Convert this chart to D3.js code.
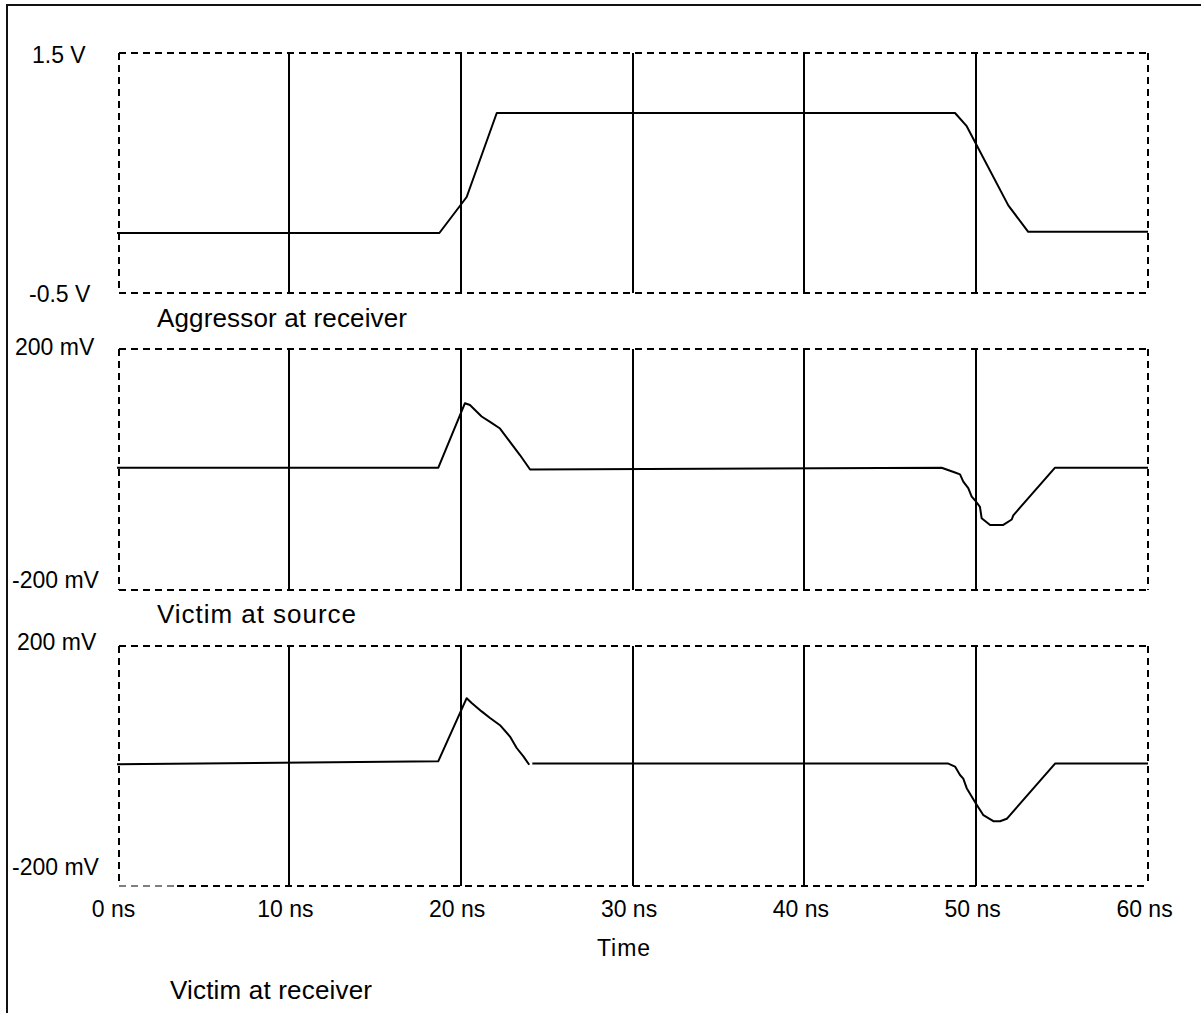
<!DOCTYPE html>
<html><head><meta charset="utf-8">
<script src="https://cdn.jsdelivr.net/npm/d3@7/dist/d3.min.js"></script>
<style>
html,body{margin:0;padding:0;background:#fff;}
text{font-family:"Liberation Sans",Arial,sans-serif;fill:#000;}
</style></head>
<body>
<svg id="chart" width="1201" height="1013"></svg>
<script>
// ---- data ----
const timeTicks = [0, 10, 20, 30, 40, 50, 60];
const gridTimes = [10, 20, 30, 40, 50];

const aggressorT = [0, 18.76, 20.35, 22.10, 48.77, 49.45, 51.87, 53.03, 60];
const aggressorV = [0, 0, 0.30, 1.0, 1.0, 0.89, 0.23, 0.01, 0.01];

const victimSourceT  = [0, 18.70, 20.25, 20.54, 21.22, 21.71, 22.29, 22.87, 23.45, 24.04, 47.99, 48.77, 49.06, 49.25, 49.54, 49.74, 49.93, 50.22, 50.32, 50.81, 51.58, 52.07, 52.16, 54.59, 60];
const victimSourceMV = [3, 3, 110, 107, 88, 79, 68, 46, 24, 0, 3, -5, -8, -20, -31, -45, -51, -62, -81, -92, -92, -83, -76, 3, 3];

const victimRecvT  = [0, 18.70, 20.35, 20.64, 21.22, 21.71, 22.29, 22.87, 23.26, 23.65, 23.99, null, 24.17, 48.38, 48.77, 49.06, 49.25, 49.45, 49.93, 50.42, 51.00, 51.39, 51.78, 54.59, 60];
const victimRecvMV = [3, 8, 113, 105, 91, 80, 68, 49, 30, 16, 2, null, 4, 4, -1, -15, -21, -37, -60, -82, -92, -92, -88, 4, 4];

const panelTitles = ["Aggressor at receiver", "Victim at source", "Victim at receiver"];
const yTickLabels = [["1.5 V", "-0.5 V"], ["200 mV", "-200 mV"], ["200 mV", "-200 mV"]];
const yDomains = [[-0.5, 1.5], [-200, 200], [-200, 200]];
const xTitle = "Time";

// ---- layout ----
const svg = d3.select("#chart");
const x = d3.scaleLinear().domain([0, 60]).range([117, 1148]);
const boxLeft = 119, boxRight = 1148;

const panels = [
  {top: 53, bottom: 293, t: aggressorT, v: aggressorV,
   ylab: [{x: 32, y: 63}, {x: 29, y: 302}], title: {x: 157, y: 327, len: 250}},
  {top: 349, bottom: 590, t: victimSourceT, v: victimSourceMV,
   ylab: [{x: 15, y: 355}, {x: 12, y: 588}], title: {x: 157, y: 623, len: 199}},
  {top: 646, bottom: 886, t: victimRecvT, v: victimRecvMV,
   ylab: [{x: 17, y: 650}, {x: 12, y: 875}], title: {x: 170, y: 999, len: 202}, thinStart: 177}
];

// outer frame
svg.append("path")
  .attr("d", "M7,1013 L7,5 L1201,5")
  .attr("fill", "none").attr("stroke", "#111").attr("stroke-width", 2);

panels.forEach((p, i) => {
  const y = d3.scaleLinear().domain(yDomains[i]).range([p.bottom, p.top]);
  const g = svg.append("g");
  const yT = y(yDomains[i][1]), yB = y(yDomains[i][0]);

  // vertical grid lines
  g.selectAll("line.grid").data(gridTimes).join("line")
    .attr("class", "grid")
    .attr("x1", d => Math.round(x(d))).attr("x2", d => Math.round(x(d)))
    .attr("y1", yT).attr("y2", yB)
    .attr("stroke", "#000").attr("stroke-width", 2);

  // dashed frame
  const dash = (x1, y1, x2, y2, w) => g.append("line")
    .attr("x1", x1).attr("y1", y1).attr("x2", x2).attr("y2", y2)
    .attr("stroke", "#000").attr("stroke-width", w).attr("stroke-dasharray", "7,5");
  dash(boxLeft, yT, boxRight, yT, 2);
  dash(boxRight, yT, boxRight, yB, 2);
  dash(boxLeft, yT, boxLeft, yB, 2);
  if (p.thinStart) {
    dash(boxLeft, yB, p.thinStart, yB, 1);
    dash(p.thinStart, yB, boxRight, yB, 2);
  } else {
    dash(boxLeft, yB, boxRight, yB, 2);
  }

  // waveform
  const pts = p.t.map((t, k) => [t, p.v[k]]);
  const line = d3.line()
    .defined(d => d[0] !== null && d[1] !== null)
    .x(d => x(d[0])).y(d => y(d[1]));
  g.append("path").datum(pts)
    .attr("d", line)
    .attr("fill", "none").attr("stroke", "#000").attr("stroke-width", 2)
    .attr("stroke-linejoin", "round");

  // y labels
  yTickLabels[i].forEach((lab, k) => {
    g.append("text").attr("x", p.ylab[k].x).attr("y", p.ylab[k].y)
      .attr("font-size", 23).text(lab);
  });

  // panel title
  g.append("text").attr("x", p.title.x).attr("y", p.title.y)
    .attr("font-size", 26)
    .attr("textLength", p.title.len).attr("lengthAdjust", "spacing")
    .text(panelTitles[i]);
});

// x axis labels
const xAxis = d3.axisBottom(x).tickValues(timeTicks)
  .tickFormat(d => d + " ns").tickSize(0);
const ax = svg.append("g").attr("transform", "translate(-4,0)").call(xAxis);
ax.select(".domain").remove();
ax.selectAll("text")
  .attr("y", 917).attr("dy", null)
  .attr("font-size", 23).attr("font-family", "'Liberation Sans', Arial, sans-serif")
  .attr("fill", "#000");

svg.append("text").attr("x", 597).attr("y", 956)
  .attr("font-size", 23).attr("textLength", 53).attr("lengthAdjust", "spacing")
  .text(xTitle);
</script>
</body></html>
